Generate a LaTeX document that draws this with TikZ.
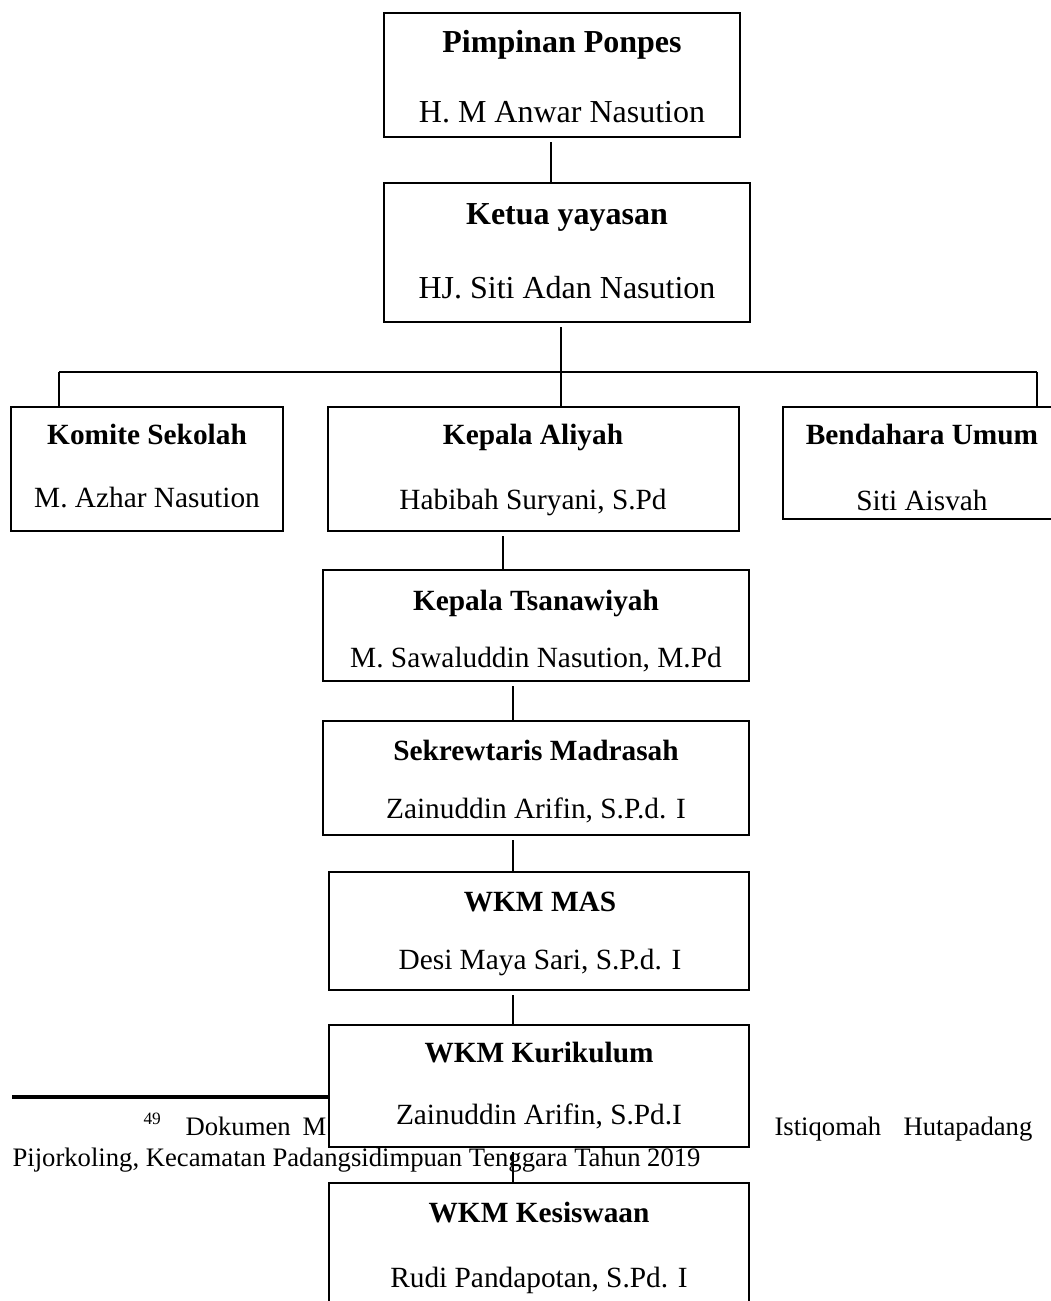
\documentclass[tikz,border=0pt]{standalone}
\usepackage{fontspec}
\setmainfont{Liberation Serif}
\begin{document}
\begin{tikzpicture}[x=0.375pt,y=-0.375pt,
  orgbox/.style={draw=black, line width=0.75pt, fill=white, rectangle, inner sep=0pt},
  conn/.style={draw=black, line width=0.7pt},
  gapconn/.style={conn, shorten <=1.6pt},
  head/.style={anchor=base, inner sep=0pt, font=\fontsize{11}{13}\selectfont\bfseries},
  who/.style={anchor=base, inner sep=0pt, font=\fontsize{11}{13}\selectfont},
  bighead/.style={anchor=base, inner sep=0pt, font=\fontsize{12}{14}\selectfont\bfseries},
  bigwho/.style={anchor=base, inner sep=0pt, font=\fontsize{12}{14}\selectfont},
  fn/.style={anchor=base west, inner sep=0pt, font=\fontsize{10}{12}\selectfont},
  fnrule/.style={draw=black, line width=1.3pt}]
\newcommand\orgnode[5]{\node[orgbox, minimum width={(#4-#2)*0.375pt}, minimum height={(#5-#3)*0.375pt}] (#1) at ({(#2+#4)/2},{(#3+#5)/2}) {};}
\clip (0,0) rectangle (1051,1301);
\fill[white] (0,0) rectangle (1051,1301);
% footnote (lies under the boxes)
\coordinate (rl) at (12,1097);
\coordinate (rr) at (400,1097);
\draw[fnrule] (rl) -- (rr);
\node[fn, font=\fontsize{6.5}{8}\selectfont] (fn49) at (143,1124) {49};
\node[fn] (fnA) at (185,1135) {Dokumen};
\node[fn] (fnB) at (302,1135) {M};
\node[fn] (fnC) at (774,1135) {Istiqomah};
\node[fn] (fnD) at (903,1135) {Hutapadang};
\node[fn] (fnE) at (12,1166) {Pijorkoling, Kecamatan Padangsidimpuan Tenggara Tahun 2019};
% boxes
\orgnode{b1}{384}{13}{740}{137}
\orgnode{b2}{384}{183}{750}{322}
\orgnode{k}{11}{407}{283}{531}
\orgnode{a}{328}{407}{739}{531}
\orgnode{bd}{783}{407}{1061}{519}
\orgnode{ts}{323}{570}{749}{681}
\orgnode{sk}{323}{721}{749}{835}
\orgnode{mas}{329}{872}{749}{990}
\orgnode{kur}{329}{1025}{749}{1147}
\orgnode{kes}{329}{1183}{749}{1320}
% texts
\node[bighead] (t1a) at (562,53) {Pimpinan Ponpes};
\node[bigwho] (t1b) at (562,123) {H. M Anwar Nasution};
\node[bighead] (t2a) at (567,225) {Ketua yayasan};
\node[bigwho] (t2b) at (567,298) {HJ. Siti Adan Nasution};
\node[head] (tka) at (147,444) {Komite Sekolah};
\node[who] (tkb) at (147,507) {M. Azhar Nasution};
\node[head] (taa) at (533,444) {Kepala Aliyah};
\node[who] (tab) at (533,509) {Habibah Suryani, S.Pd};
\node[head] (tba) at (922,444) {Bendahara Umum};
\node[who] (tbb) at (922,510) {Siti Aisvah};
\node[head] (tta) at (536,610) {Kepala Tsanawiyah};
\node[who] (ttb) at (536,667) {M. Sawaluddin Nasution, M.Pd};
\node[head] (tsa) at (536,760) {Sekrewtaris Madrasah};
\node[who] (tsb) at (536,818) {Zainuddin Arifin, S.P.d. I};
\node[head] (tma) at (540,911) {WKM MAS};
\node[who] (tmb) at (540,969) {Desi Maya Sari, S.P.d. I};
\node[head] (tua) at (539,1062) {WKM Kurikulum};
\node[who] (tub) at (539,1124) {Zainuddin Arifin, S.Pd.I};
\node[head] (tea) at (539,1222) {WKM Kesiswaan};
\node[who] (teb) at (539,1287) {Rudi Pandapotan, S.Pd. I};
% connectors
\coordinate (x1) at (551,0);
\coordinate (jn) at (561,372);
\coordinate (jl) at (59,372);
\coordinate (jr) at (1037,372);
\coordinate (x2) at (503,0);
\coordinate (x3) at (513,0);
\draw[gapconn] (b1.south -| x1) -- (b2.north -| x1);
\draw[gapconn] (b2.south -| jn) -- (jn);
\draw[conn] (jl) -- (jr);
\draw[conn] (jl) -- (k.north -| jl);
\draw[conn] (jn) -- (a.north -| jn);
\draw[conn] (jr) -- (bd.north -| jr);
\draw[gapconn] (a.south -| x2) -- (ts.north -| x2);
\draw[gapconn] (ts.south -| x3) -- (sk.north -| x3);
\draw[gapconn] (sk.south -| x3) -- (mas.north -| x3);
\draw[gapconn] (mas.south -| x3) -- (kur.north -| x3);
\draw[gapconn] (kur.south -| x3) -- (kes.north -| x3);
\end{tikzpicture}
\end{document}
